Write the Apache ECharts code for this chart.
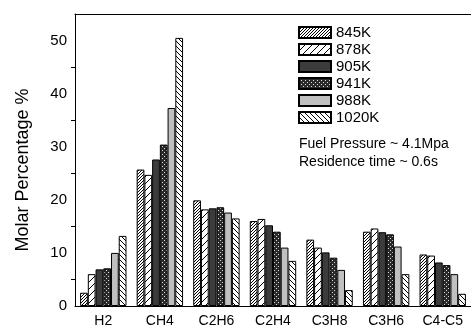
<!DOCTYPE html>
<html>
<head>
<meta charset="utf-8">
<script src="https://cdn.jsdelivr.net/npm/echarts@6/dist/echarts.min.js"></script>
<style>
  html, body { margin: 0; padding: 0; background: #fff; }
  #chart { width: 471px; height: 329px; }
</style>
</head>
<body>
<div id="chart"></div>
<script>
// species on the x axis
var categories = ["H2", "CH4", "C2H6", "C2H4", "C3H8", "C3H6", "C4-C5"];
// temperatures (one series each)
var temps = ["845K", "878K", "905K", "941K", "988K", "1020K"];
// molar percentage per temperature
var v845 = [2.5, 25.7, 19.9, 16.0, 12.5, 14.0, 9.7];
var v878 = [6.0, 24.7, 18.2, 16.4, 11.0, 14.6, 9.5];
var v905 = [6.9, 27.6, 18.4, 15.2, 10.1, 13.9, 8.2];
var v941 = [7.1, 30.4, 18.6, 14.0, 9.1, 13.5, 7.7];
var v988 = [10.0, 37.3, 17.6, 11.0, 6.8, 11.2, 6.0];
var v1020 = [13.2, 50.5, 16.5, 8.5, 3.0, 6.0, 2.3];
var allValues = [v845, v878, v905, v941, v988, v1020];

// hatch fills drawn on small canvases
function hatch(period, dir, lineW) {
  var c = document.createElement("canvas");
  c.width = period; c.height = period;
  var g = c.getContext("2d");
  g.fillStyle = "#fff";
  g.fillRect(0, 0, period, period);
  g.strokeStyle = "#000";
  g.lineWidth = lineW;
  g.beginPath();
  for (var k = -1; k <= 1; k++) {
    if (dir > 0) {
      g.moveTo(k * period, period);
      g.lineTo(k * period + period, 0);
    } else {
      g.moveTo(k * period, 0);
      g.lineTo(k * period + period, period);
    }
  }
  g.stroke();
  return { image: c, repeat: "repeat" };
}
function checker() {
  var c = document.createElement("canvas");
  c.width = 4; c.height = 4;
  var g = c.getContext("2d");
  g.fillStyle = "#2a2a2a";
  g.fillRect(0, 0, 4, 4);
  g.fillStyle = "#ddd";
  g.fillRect(0, 0, 1, 1);
  g.fillRect(2, 2, 1, 1);
  return { image: c, repeat: "repeat" };
}

var fills = [
  hatch(3, 1, 1),
  hatch(7, 1, 1),
  "#3c3c3c",
  checker(),
  "#c0c0c0",
  hatch(5, -1, 1)
];

var chart = echarts.init(document.getElementById("chart"));

var series = temps.map(function (t, i) {
  return {
    name: t,
    type: "bar",
    data: allValues[i],
    barGap: "0%",
    barCategoryGap: "18%",
    itemStyle: {
      color: fills[i],
      borderColor: "#000",
      borderWidth: 1
    }
  };
});

var font = "Liberation Sans";

chart.setOption({
  animation: false,
  backgroundColor: "#fff",
  grid: { left: 75, top: 14, width: 405, height: 292 },
  legend: {
    orient: "vertical",
    left: 298,
    top: 25,
    padding: 0,
    itemWidth: 32,
    itemHeight: 11,
    itemGap: 2,
    icon: "rect",
    data: temps,
    textStyle: { fontFamily: font, fontSize: 15, color: "#000" }
  },
  xAxis: [
    {
      type: "category",
      data: categories,
      axisLine: { lineStyle: { color: "#000" } },
      axisTick: { length: 5, lineStyle: { color: "#000" } },
      axisLabel: { margin: 8, fontFamily: font, fontSize: 14, color: "#000" }
    },
    {
      type: "category",
      data: categories,
      position: "top",
      axisLine: { lineStyle: { color: "#000" } },
      axisTick: { inside: true, length: 4, lineStyle: { color: "#000" } },
      axisLabel: { show: false }
    }
  ],
  yAxis: {
    type: "value",
    min: 0,
    max: 55,
    interval: 10,
    axisLine: { show: true, lineStyle: { color: "#000" } },
    axisTick: { length: 6, lineStyle: { color: "#000" } },
    minorTick: { show: true, splitNumber: 2, length: 4, lineStyle: { color: "#000" } },
    splitLine: { show: false },
    axisLabel: { margin: 8, showMaxLabel: false, fontFamily: font, fontSize: 15, color: "#000" }
  },
  graphic: [
    {
      type: "text", x: 23, y: 170, rotation: Math.PI / 2,
      style: {
        text: "Molar Percentage %", font: "18px 'Liberation Sans'", fill: "#000",
        textAlign: "center", textVerticalAlign: "middle"
      }
    },
    {
      type: "text", left: 299, top: 137,
      style: { text: "Fuel Pressure ~ 4.1Mpa", font: "14px 'Liberation Sans'", fill: "#000" }
    },
    {
      type: "text", left: 299, top: 155,
      style: { text: "Residence time ~ 0.6s", font: "14px 'Liberation Sans'", fill: "#000" }
    }
  ],
  series: series
});
</script>
</body>
</html>
